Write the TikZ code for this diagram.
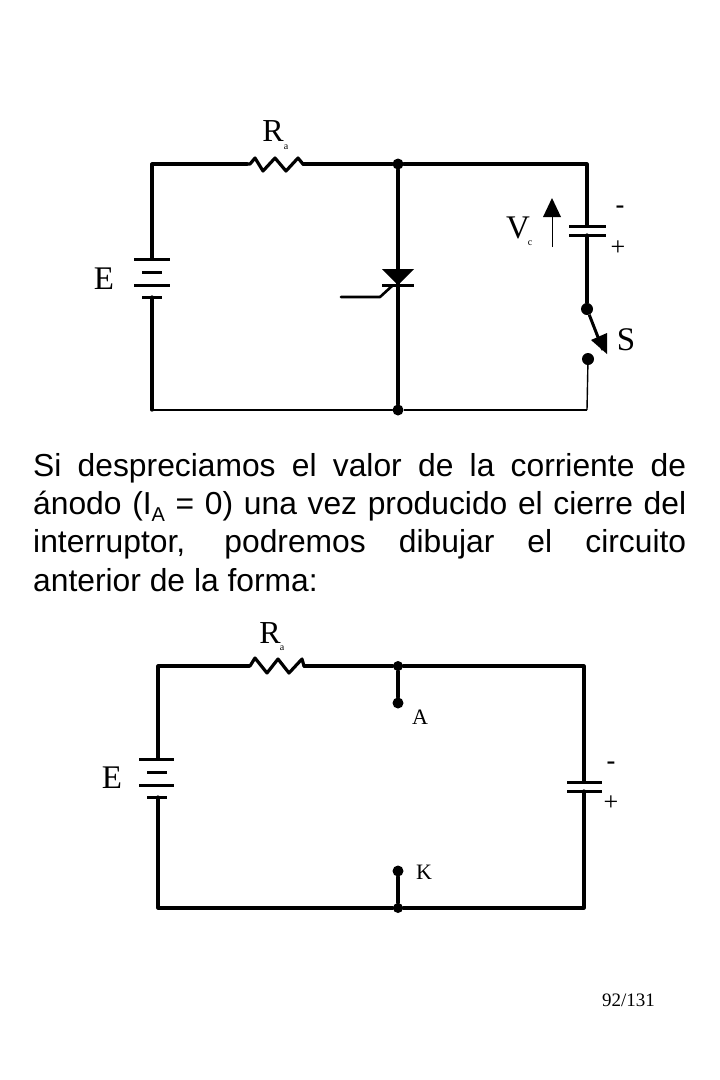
\documentclass[tikz,border=0pt]{standalone}
\usepackage{fontspec}
\setmainfont{Liberation Serif}
\newfontfamily\bodyfont{Liberation Sans}
\begin{document}
\begin{tikzpicture}[x=1pt,y=-1pt,
  wire/.style={line width=3.2pt,line cap=round,line join=round},
  thinwire/.style={line width=1.4pt},
  plate/.style={line width=3pt},
  junction/.style={circle,fill=black,inner sep=0pt,minimum size=#1},
  lab/.style={inner sep=0pt,font=\fontsize{#1}{#1}\selectfont}]
\useasboundingbox (0,0) rectangle (720,1080);
\fill[white] (0,0) rectangle (720,1080);

% --- top circuit ---
\coordinate (tl) at (152,164); \coordinate (bl) at (152,410);
\coordinate (r1a) at (247,164); \coordinate (r1b) at (303,164);
\coordinate (b1t) at (152,259); \coordinate (b1b) at (152,297);
\coordinate (tr) at (587,164); \coordinate (brr) at (587,410);
\coordinate (c1t) at (587,226); \coordinate (c1b) at (587,235);
\node[junction=11pt] (tm) at (398,164) {};
\node[junction=11pt] (bm) at (398,410) {};
\node[junction=12pt] (s1) at (587,309) {};
\node[junction=12pt] (s2) at (588,359) {};
\coordinate (swtip) at (603,350);
\draw[wire] (r1a) -- (tl) -- (b1t);
\draw[wire] (b1b) -- (bl);
\draw[line width=2.6pt,line cap=round] (bl) -- (bm);
\draw[line width=2.2pt] (bm) -- (brr);
\draw[wire] (r1a) -- (250,164) -- (255,158) -- (263,171) -- (275,158) -- (286,171) -- (298,158) -- (r1b);
\draw[wire] (r1b) -- (tm);
\draw[wire] (tm) -- (tr) -- (c1t);
\draw[wire] (tm) -- (bm);
\draw[wire] (c1b) -- (s1);
\draw[thinwire] (s2) -- (brr);
% battery
\draw[plate] (134,259) -- (170,259);
\draw[plate] (142,272) -- (162,272);
\draw[plate] (134,285) -- (170,285);
\draw[plate] (142,297) -- (162,297);
% thyristor
\fill (382,269) -- (414,269) -- (398,285) -- cycle;
\draw[plate] (382,285) -- (414,285);
\draw[line width=2.6pt,line cap=round,line join=round] (341,297) -- (380,297) -- (392,286);
% capacitor
\draw[plate] (569,226) -- (606,226);
\draw[plate] (569,235) -- (606,235);
% switch
\draw[line width=3pt] (s1) -- (swtip);
\fill (607,354) -- (591,340) -- (607,333) -- cycle;
% Vc arrow
\coordinate (va) at (552,247); \coordinate (vb) at (552,210);
\draw[line width=1pt] (va) -- (vb);
\fill (552,198) -- (561,217) -- (543,217) -- cycle;
% labels
\node[lab=33] (e1) at (104,279) {E};
\node[lab=32] (r1) at (273,131) {R};
\node[lab=10] (r1s) at (286,147) {a};
\node[lab=33] (v1) at (518,228) {V};
\node[lab=10] (v1s) at (530,243) {c};
\node[lab=28] (m1) at (620,210) {\bodyfont -};
\node[lab=26] (p1) at (618,248) {+};
\node[lab=33] (s1l) at (626,340) {S};

% --- paragraph ---
\node[anchor=north west,inner sep=0pt,text width=653pt,align=justify,
      font=\bodyfont\fontsize{31.8}{38.4}\selectfont] (para) at (33,452.8)
 {Si despreciamos el valor de la corriente de\linebreak
  ánodo (I\raisebox{-7.5pt}{\fontsize{20}{20}\selectfont A} = 0) una vez producido el cierre del\linebreak
  interruptor, podremos dibujar el circuito\linebreak
  anterior de la forma:};

% --- bottom circuit ---
\coordinate (tl2) at (158,666); \coordinate (bl2) at (158,908);
\coordinate (r2a) at (249,666); \coordinate (r2b) at (304,666);
\coordinate (b2t) at (158,759); \coordinate (b2b) at (158,797);
\coordinate (tr2) at (584,666); \coordinate (br2) at (584,908);
\coordinate (c2t) at (584,782); \coordinate (c2b) at (584,791);
\node[junction=10pt] (tm2) at (398,666) {};
\node[junction=11pt] (am) at (398,703) {};
\node[junction=11pt] (km) at (398,871) {};
\node[junction=10pt] (bm2) at (398,908) {};
\draw[wire] (r2a) -- (tl2) -- (b2t);
\draw[wire] (b2b) -- (bl2) -- (bm2);
\draw[wire] (r2a) -- (250,666) -- (255,658) -- (267,673) -- (278,659) -- (289,673) -- (302,659) -- (r2b);
\draw[wire] (r2b) -- (tm2) -- (tr2) -- (c2t);
\draw[wire] (c2b) -- (br2) -- (bm2);
\draw[wire] (tm2) -- (am);
\draw[wire] (km) -- (bm2);
\draw[plate] (139,759) -- (174,759);
\draw[plate] (147,772) -- (167,772);
\draw[plate] (139,785) -- (174,785);
\draw[plate] (147,797) -- (167,797);
\draw[plate] (567,782) -- (602,782);
\draw[plate] (567,791) -- (602,791);
\node[lab=33] (e2) at (112,778) {E};
\node[lab=32] (r2) at (270,633) {R};
\node[lab=10] (r2s) at (282,648) {a};
\node[lab=22] (al) at (420,717) {A};
\node[lab=22] (kl) at (424,872) {K};
\node[lab=28] (m2) at (611,766) {\bodyfont -};
\node[lab=26] (p2) at (611,803) {+};

\node[lab=19] (foot) at (628.5,1000.5) {92/131};
\end{tikzpicture}
\end{document}
